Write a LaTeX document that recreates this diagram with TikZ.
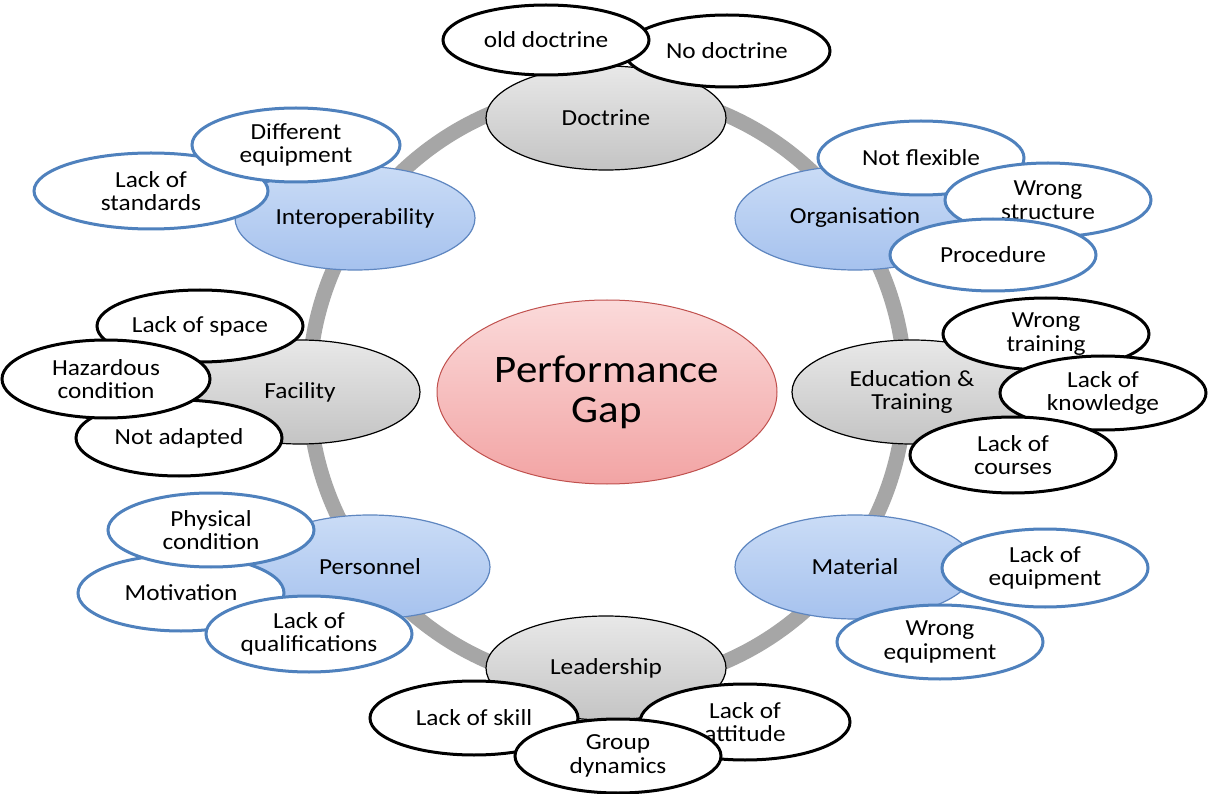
\documentclass[tikz,border=0pt]{standalone}
\usepackage{fontspec}
\setmainfont{Carlito}[FakeStretch=1.1]
\usetikzlibrary{shapes.geometric}
\definecolor{gtop}{HTML}{E8E8E8}
\definecolor{gbot}{HTML}{C4C4C4}
\definecolor{btop}{HTML}{CADCF6}
\definecolor{bbot}{HTML}{A6C2EE}
\definecolor{bbd}{HTML}{5E86C0}
\definecolor{bsubd}{HTML}{4F81BD}
\definecolor{ptop}{HTML}{FBDADA}
\definecolor{pbot}{HTML}{F2A4A4}
\definecolor{pbd}{HTML}{C0504D}
\definecolor{ringc}{HTML}{A6A6A6}
\tikzset{
  txt/.style={font=\fontsize{23}{23.5}\selectfont, align=center, text=black},
  mainnode/.style={ellipse, minimum width=240pt, minimum height=104pt, inner sep=0pt, txt},
  gmain/.style={mainnode, draw=black, line width=1.2pt, top color=gtop, bottom color=gbot},
  bmain/.style={mainnode, draw=bbd, line width=1.2pt, top color=btop, bottom color=bbot},
  subnode/.style={ellipse, minimum width=206pt, minimum height=74pt, inner sep=0pt, fill=white, line width=3pt, txt},
  ksub/.style={subnode, draw=black},
  bsub/.style={subnode, draw=bsubd},
  ringline/.style={draw=ringc, line width=15pt}
}
\begin{document}
\begin{tikzpicture}[x=1pt,y=-1pt]
\useasboundingbox[fill=white] (0,0) rectangle (1208,794);
\coordinate (rc) at (607,388);
\draw[ringline] (rc) circle[radius=298pt];

\node[ellipse, minimum width=340pt, minimum height=184pt, inner sep=0pt, draw=pbd, line width=1pt, top color=ptop, bottom color=pbot, align=center, font=\fontsize{39}{40}\selectfont] (gap) at (607,392) {Performance\\Gap};

\node[gmain] (doc) at (606,118) {Doctrine};
\node[bmain] (org) at (855,218) {Organisation};
\node[gmain] (edu) at (912,392) {Education \&\\Training};
\node[bmain] (mat) at (855,567) {Material};
\node[gmain] (lead) at (606,668) {Leadership};
\node[bmain] (pers) at (370,567) {Personnel};
\node[gmain] (fac) at (300,392) {Facility};
\node[bmain] (inter) at (355,218) {Interoperability};

% Doctrine
\node[ksub, minimum height=72pt] (nodoc) at (727,51) {No doctrine};
\node[ksub, minimum height=70pt] (olddoc) at (546,40) {old doctrine};
% Organisation
\node[bsub] (notflex) at (921,158) {Not flexible};
\node[bsub] (wrongstr) at (1048,200) {Wrong\\structure};
\node[bsub, minimum height=72pt] (proc) at (993,255) {Procedure};
% Education
\node[ksub, minimum height=72pt] (wrongtr) at (1046,334) {Wrong\\training};
\node[ksub] (lackkn) at (1103,393) {Lack of\\knowledge};
\node[ksub, minimum height=76pt] (lackco) at (1013,455) {Lack of\\courses};
% Material
\node[bsub, minimum height=78pt] (lackeq) at (1045,568) {Lack of\\equipment};
\node[bsub] (wrongeq) at (940,642) {Wrong\\equipment};
% Leadership
\node[ksub, minimum width=208pt] (lackskill) at (474,718) {Lack of skill};
\node[ksub, minimum width=210pt, minimum height=76pt] (lackatt) at (745,722) {Lack of\\attitude};
\node[ksub] (group) at (618,756) {Group\\dynamics};
% Personnel
\node[bsub, minimum height=76pt] (motiv) at (181,593) {Motivation};
\node[bsub] (phys) at (211,530) {Physical\\condition};
\node[bsub, minimum height=76pt] (lackqual) at (309,634) {Lack of\\qualifications};
% Facility
\node[ksub, minimum height=72pt] (lackspace) at (200,326) {Lack of space};
\node[ksub, minimum height=76pt] (notad) at (179,438) {Not adapted};
\node[ksub, minimum width=208pt, minimum height=78pt] (haz) at (106,379) {Hazardous\\condition};
% Interoperability
\node[bsub, minimum width=234pt, minimum height=76pt] (lackstd) at (151,191) {Lack of\\standards};
\node[bsub, minimum width=208pt] (diffeq) at (296,145) {Different\\equipment};
\end{tikzpicture}
\end{document}
